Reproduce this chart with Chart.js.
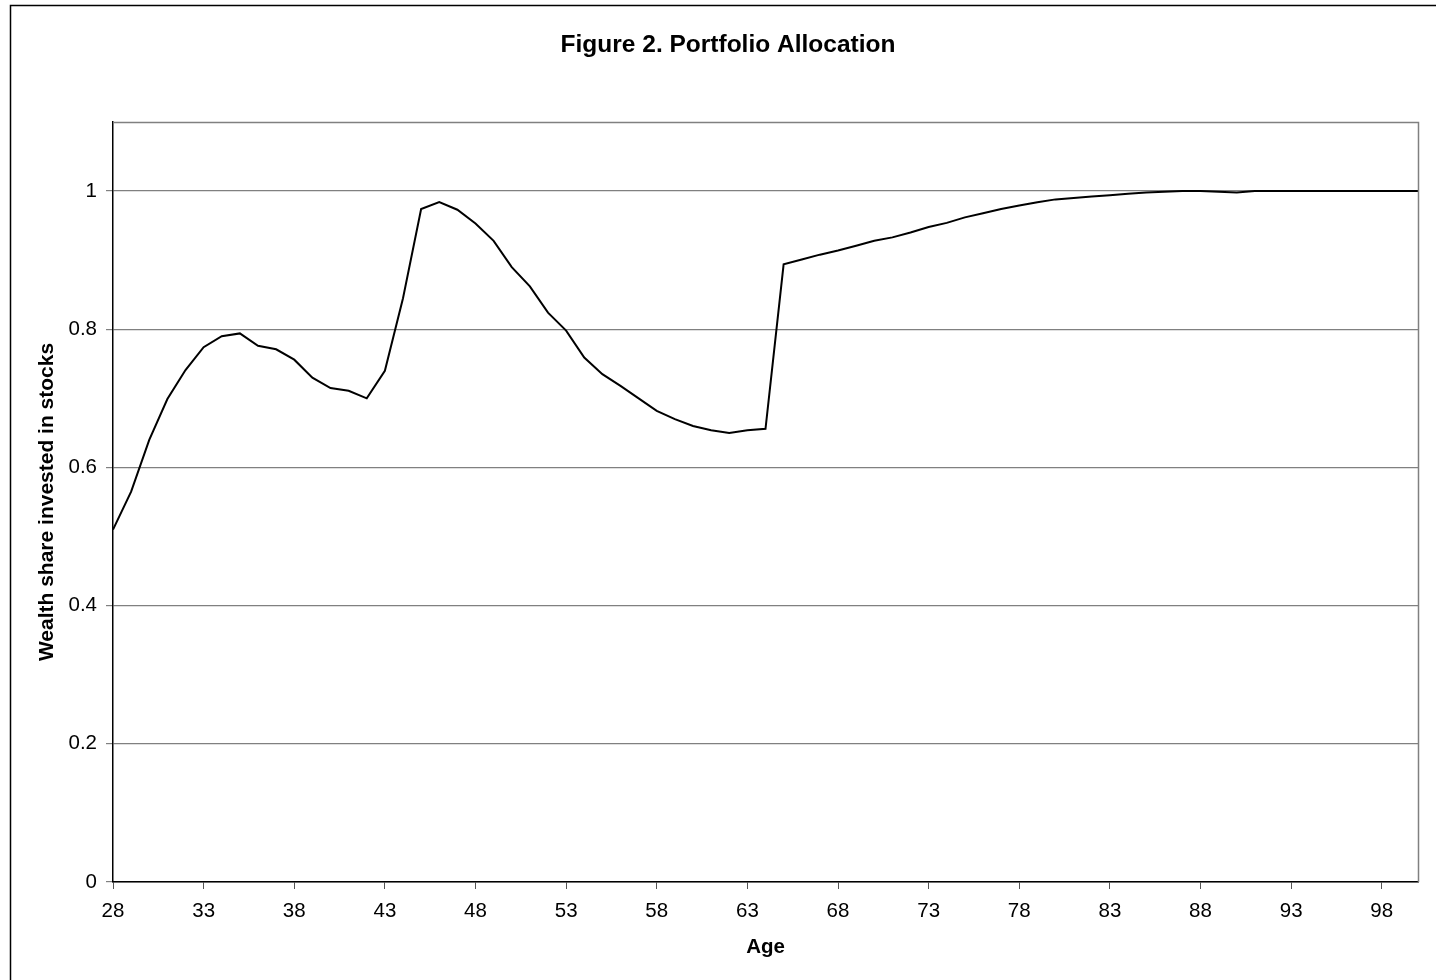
<!DOCTYPE html>
<html>
<head>
<meta charset="utf-8">
<script src="https://cdn.jsdelivr.net/npm/chart.js@4.4.1/dist/chart.umd.min.js"></script>
<style>
  html, body { margin: 0; padding: 0; background: #fff; }
  #wrap { position: relative; width: 1436px; height: 980px; }
  canvas { display: block; }
</style>
</head>
<body>
<div id="wrap"><canvas id="c" width="1436" height="980"></canvas></div>
<script>
// ---- data ----
const ages = [28,29,30,31,32,33,34,35,36,37,38,39,40,41,42,43,44,45,46,47,48,49,50,51,52,53,54,55,56,57,58,59,60,61,62,63,64,65,66,67,68,69,70,71,72,73,74,75,76,77,78,79,80,81,82,83,84,85,86,87,88,89,90,91,92,93,94,95,96,97,98,99,100];
const stockShare = [
  0.510, 0.565, 0.640, 0.699, 0.741, 0.774, 0.790, 0.794, 0.776, 0.771,
  0.756, 0.730, 0.715, 0.711, 0.700, 0.740, 0.845, 0.974, 0.984, 0.973,
  0.953, 0.928, 0.890, 0.862, 0.824, 0.798, 0.759, 0.735, 0.718, 0.700,
  0.682, 0.670, 0.660, 0.654, 0.650, 0.654, 0.656, 0.894, 0.901, 0.908,
  0.914, 0.921, 0.928, 0.933, 0.940, 0.948, 0.954, 0.962, 0.968, 0.974,
  0.979, 0.984, 0.988, 0.990, 0.992, 0.994, 0.996, 0.998, 0.999, 1.000,
  1.000, 0.999, 0.998, 1.000, 1.000, 1.000, 1.000, 1.000, 1.000, 1.000,
  1.000, 1.000, 1.000
];
const xTickLabels = [28,33,38,43,48,53,58,63,68,73,78,83,88,93,98];
const yTickValues = [0, 0.2, 0.4, 0.6, 0.8, 1.0];
const titleText = 'Figure 2. Portfolio Allocation';
const xTitle = 'Age';
const yTitle = 'Wealth share invested in stocks';

const FONT = "'Liberation Sans', Arial, Helvetica, sans-serif";

const framePlugin = {
  id: 'frame',
  afterLayout(chart) {
    // the figure frame extends past the right edge of the picture; centre the title on it
    if (chart.titleBlock) { chart.titleBlock.left = 38; chart.titleBlock.right = 1418; }
  },
  afterDraw(chart) {
    const {ctx, chartArea: a} = chart;
    ctx.save();
    // plot area border (top & right, gray)
    ctx.strokeStyle = '#808080';
    ctx.lineWidth = 1.5;
    ctx.beginPath();
    ctx.moveTo(a.left, a.top + 0.5);
    ctx.lineTo(a.right + 0.5, a.top + 0.5);
    ctx.lineTo(a.right + 0.5, a.bottom);
    ctx.stroke();
    // outer chart border
    ctx.strokeStyle = '#000';
    ctx.lineWidth = 1.5;
    ctx.strokeRect(10.5, 5.5, 1450, 1000);
    ctx.restore();
  }
};

new Chart(document.getElementById('c'), {
  type: 'line',
  data: {
    labels: ages,
    datasets: [{
      data: stockShare,
      borderColor: '#000',
      borderWidth: 2,
      pointRadius: 0,
      tension: 0,
      fill: false
    }]
  },
  options: {
    responsive: false,
    animation: false,
    devicePixelRatio: 1,
    layout: { padding: { left: 0, right: 18, top: 0, bottom: 0 }, autoPadding: false },
    plugins: {
      legend: { display: false },
      tooltip: { enabled: false },
      title: {
        display: true,
        text: titleText,
        color: '#000',
        font: { family: FONT, size: 24.5, weight: 'bold', lineHeight: 1.2 },
        padding: { top: 31, bottom: 122 - 31 - 29.4 }
      }
    },
    scales: {
      x: {
        type: 'category',
        offset: false,
        afterFit(s) { s.height = 98; },
        border: { display: true, color: '#000', width: 1.5 },
        grid: {
          drawOnChartArea: false,
          drawTicks: true,
          tickLength: 7,
          color: (c) => (c.tick && xTickLabels.includes(Number(ages[c.index]))) ? '#555' : 'rgba(0,0,0,0)'
        },
        ticks: {
          autoSkip: false,
          maxRotation: 0,
          padding: 10,
          color: '#000',
          font: { family: FONT, size: 20.5 },
          callback: function(v, i) { return xTickLabels.includes(ages[i]) ? String(ages[i]) : ''; }
        },
        title: {
          display: true,
          text: xTitle,
          color: '#000',
          font: { family: FONT, size: 20.5, weight: 'bold', lineHeight: 1.2 },
          padding: { top: 0, bottom: 20 }
        }
      },
      y: {
        type: 'linear',
        min: 0,
        max: 1.1,
        afterFit(s) { s.width = 113; },
        afterBuildTicks(s) { s.ticks = yTickValues.map(v => ({ value: v })); },
        border: { display: true, color: '#000', width: 1.5 },
        grid: {
          drawOnChartArea: true,
          drawTicks: true,
          tickLength: 7,
          color: '#808080',
          lineWidth: 1.2
        },
        ticks: {
          padding: 9,
          color: '#000',
          font: { family: FONT, size: 20.5 },
          callback: (v) => String(Math.round(v * 10) / 10)
        },
        title: {
          display: true,
          text: yTitle,
          color: '#000',
          font: { family: FONT, size: 21, weight: 'bold', lineHeight: 1.2 },
          padding: { top: 35, bottom: 0 }
        }
      }
    }
  },
  plugins: [framePlugin]
});
</script>
</body>
</html>
